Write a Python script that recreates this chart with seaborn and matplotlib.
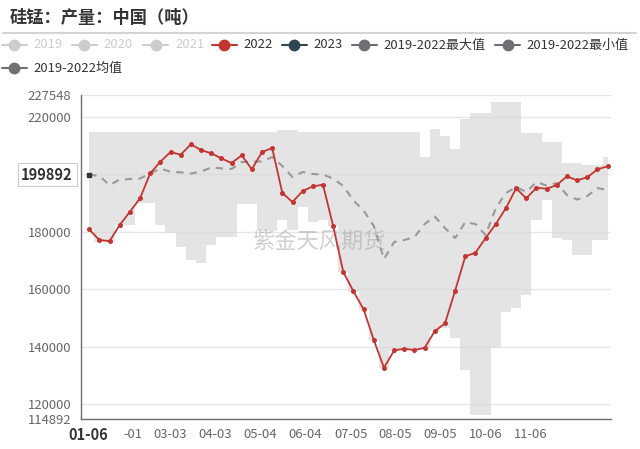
import numpy as np
import pandas as pd
import matplotlib
matplotlib.use("Agg")
import matplotlib.pyplot as plt
import matplotlib.dates as mdates
import matplotlib.transforms as mtransforms
from matplotlib.lines import Line2D
import seaborn as sns

# ---------------- data ----------------
title = "硅锰：产量：中国（吨）"
week_start = "2022-01-06"
n_weeks = 52

s2022 = [180830, 177110, 176760, 182330, 186960, 191620, 200310, 204350, 207720, 206780,
         210400, 208420, 207270, 205530, 203890, 206570, 201700, 207720, 209110, 193460,
         190330, 194160, 195790, 196350, 181980, 165980, 159270, 153010, 142330, 132700,
         138750, 139310, 138860, 139660, 145460, 148140, 159480, 171440, 172700, 177810,
         182680, 188240, 195090, 191620, 195300, 194960, 196240, 199270, 197880, 198920,
         201700, 202750]

band_max = [214780] * 19 + [215370] * 2 + [214780] * 12 + [206090, 215620, 213390, 208760, 219090,
            221180, 221180, 225000, 225000, 225000, 214220, 214220, 211300, 211300,
            203790, 203790, 203200, 203200, 206090]

band_min = [180800, 176520, 176520, 182330, 182330, 189880, 189880, 182330, 179440, 174780,
            170160, 169220, 175370, 178260, 178260, 189530, 189530, 180240, 180240, 184070,
            180770, 188700, 183370, 184070, 181900, 165900, 159200, 152900, 142300, 132600,
            138700, 139300, 138800, 139600, 145400, 146400, 142920, 131900, 116250, 116250,
            140000, 152180, 153360, 157980, 184070, 191030, 177700, 177110, 171900, 171900,
            177110, 177110]

avg = [199892, 199370, 196240, 198150, 198330, 198500, 200310, 201980, 200870, 200660,
       200240, 200940, 202330, 202050, 201810, 204240, 204420, 204420, 205980, 202850,
       199020, 200770, 200070, 199890, 198500, 195890, 190850, 187370, 181980, 170500,
       176420, 177110, 178160, 182680, 185290, 181290, 177810, 183370, 182680, 178850,
       188240, 193460, 195550, 193810, 197290, 196070, 196940, 192760, 191200, 192420,
       195200, 194500]

y_ticks = [114892, 120000, 140000, 160000, 180000, 200000, 220000, 227548]
y_labels = ["114892", "120000", "140000", "160000", "180000", "", "220000", "227548"]

x_tick_dates = ["2022-01-01", "2022-02-01", "2022-03-03", "2022-04-03", "2022-05-04",
                "2022-06-04", "2022-07-05", "2022-08-05", "2022-09-05", "2022-10-06",
                "2022-11-06"]
x_tick_labels = ["", "-01", "03-03", "04-03", "05-04", "06-04", "07-05", "08-05",
                 "09-05", "10-06", "11-06"]

legend_names = ["2019", "2020", "2021", "2022", "2023",
                "2019-2022最大值", "2019-2022最小值", "2019-2022均值"]
legend_colors = ["#cccccc", "#cccccc", "#cccccc", "#c23531", "#2f4554",
                 "#6e7074", "#6e7074", "#6e7074"]
legend_text_colors = ["#cccccc", "#cccccc", "#cccccc", "#333333", "#333333",
                      "#333333", "#333333", "#333333"]

pointer_x_label = "01-06"
pointer_y_value = 199892
watermark = "紫金天风期货"

# ---------------- style ----------------
sns.set_theme(style="white")
plt.rcParams["font.family"] = ["Noto Sans CJK SC", "DejaVu Sans"]
plt.rcParams["axes.unicode_minus"] = False

dates = pd.date_range(week_start, periods=n_weeks, freq="7D")
df = pd.DataFrame({"date": dates, "s2022": s2022, "avg": avg,
                   "lo": band_min, "hi": band_max})

W, H = 640, 449
fig = plt.figure(figsize=(W / 100, H / 100), dpi=100)
fig.patch.set_facecolor("white")
ax = fig.add_axes([80.5 / W, 30 / H, 530 / W, 324 / H])
ax.set_facecolor("white")

# band
ax.fill_between(df["date"], df["lo"], df["hi"], step="mid",
                color="#d9d9d9", alpha=0.7, lw=0, zorder=1.5)

# average dashed
sns.lineplot(data=df, x="date", y="avg", ax=ax, color="#999999", lw=1.5,
             errorbar=None, zorder=3)
ax.lines[-1].set_dashes([3.5, 3])
ax.plot([df["date"].iloc[0]], [avg[0]], marker="s", ms=3, color="#333333",
        lw=0, zorder=5)

# 2022
sns.lineplot(data=df, x="date", y="s2022", ax=ax, color="#c23531", lw=1.3,
             marker="o", markersize=3.6, markeredgewidth=0, errorbar=None, zorder=4)

ax.set_xlabel("")
ax.set_ylabel("")

ax.set_xlim(mdates.date2num(pd.Timestamp("2021-12-31")),
            mdates.date2num(pd.Timestamp("2022-12-31")))
ax.set_ylim(y_ticks[0], y_ticks[-1])
ax.set_yticks(y_ticks)
ax.set_yticklabels(y_labels)
ax.set_xticks([mdates.date2num(pd.Timestamp(d)) for d in x_tick_dates])
ax.set_xticklabels(x_tick_labels)

ax.grid(axis="y", color="#e6e6e6", lw=1, zorder=0)
ax.grid(axis="x", visible=False)
ax.set_axisbelow(True)

for s in ["top", "right"]:
    ax.spines[s].set_visible(False)
for s in ["left", "bottom"]:
    ax.spines[s].set_color("#6e7079")
    ax.spines[s].set_linewidth(1)

ax.tick_params(axis="both", length=4, width=1, color="#6e7079",
               labelcolor="#666666", labelsize=9.4, pad=2.5)

lbl = ax.get_xticklabels()[1]
lbl.set_ha("left")
lbl.set_transform(lbl.get_transform() +
                  mtransforms.ScaledTranslation(-4 / 100, 0, fig.dpi_scale_trans))

# watermark
ax.text(319 / W, 1 - 242 / H, watermark, transform=fig.transFigure,
        fontsize=16, color="#999999", alpha=0.45, ha="center", va="center",
        zorder=2.5)

# axis pointer labels
ax.annotate(pointer_x_label, xy=(mdates.date2num(dates[0]), 0),
            xycoords=("data", "axes fraction"), xytext=(-1, -11.5),
            textcoords="offset points", ha="center", va="center",
            fontsize=10.5, fontweight="bold", color="#333333",
            bbox=dict(boxstyle="square,pad=0.15", fc="white", ec="none"),
            annotation_clip=False, zorder=10)
ax.annotate(f"{pointer_y_value}", xy=(0, pointer_y_value),
            xycoords=("axes fraction", "data"), xytext=(-5.5, 0),
            textcoords="offset points", ha="right", va="center",
            fontsize=10.5, fontweight="bold", color="#333333",
            bbox=dict(boxstyle="square,pad=0.25", fc="white", ec="#cccccc", lw=0.8),
            annotation_clip=False, zorder=10)

# title and separator
fig.text(10 / W, 1 - 18 / H, title, fontsize=12.4, fontweight="bold",
         color="#333333", ha="left", va="center")
fig.add_artist(Line2D([3 / W, 636 / W], [1 - 33 / H, 1 - 33 / H],
                      transform=fig.transFigure, color="#d4d4d4", lw=1.5))

# legend
leg_x = [1.7, 71.7, 143.3, 211.7, 281.7, 351.7, 495.0, 1.7]
leg_y = [45, 45, 45, 45, 45, 45, 45, 68]
for name, c, tc, x0, y0 in zip(legend_names, legend_colors, legend_text_colors, leg_x, leg_y):
    fy = 1 - y0 / H
    fig.add_artist(Line2D([x0 / W, (x0 + 25) / W], [fy, fy],
                          transform=fig.transFigure, color=c, lw=1.5))
    fig.add_artist(Line2D([(x0 + 12.5) / W], [fy], transform=fig.transFigure,
                          marker="o", ms=7.5, color=c, lw=0))
    fig.text((x0 + 31.7) / W, fy, name, color=tc, fontsize=9.4,
             ha="left", va="center")

fig.savefig("out.png", dpi=100, facecolor="white")
